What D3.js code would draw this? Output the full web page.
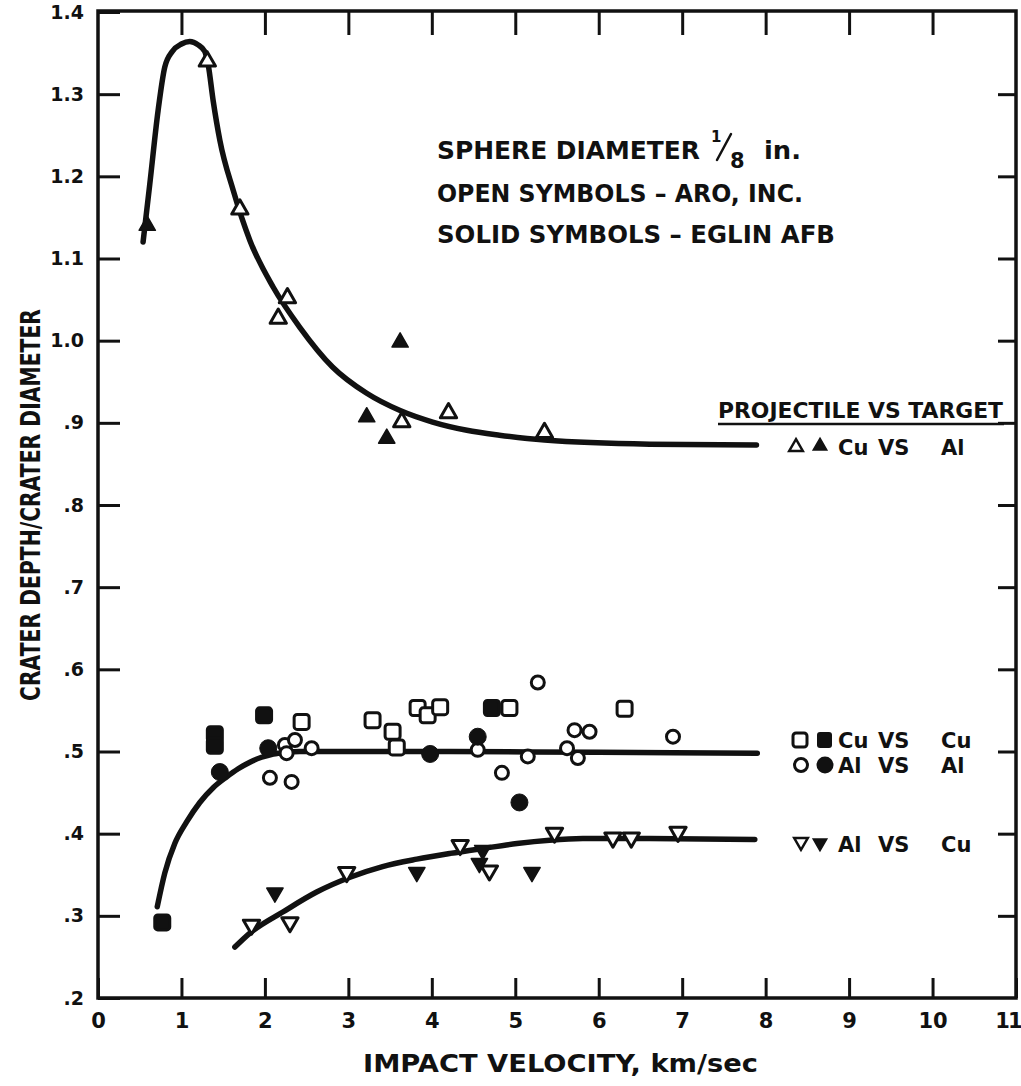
<!DOCTYPE html>
<html>
<head>
<meta charset="utf-8">
<script src="https://cdn.jsdelivr.net/npm/d3@7.9.0/dist/d3.min.js"></script>
<style>
  body { margin: 0; background: #fff; }
  svg { display: block; }
  text { font-family: "DejaVu Sans", sans-serif; font-weight: bold; fill: #111; }
</style>
</head>
<body>
<svg id="chart"></svg>
<script>
// axis ticks
const xTickValues = [0, 1, 2, 3, 4, 5, 6, 7, 8, 9, 10, 11];
const xTickLabels = ['0', '1', '2', '3', '4', '5', '6', '7', '8', '9', '10', '11'];
const yTickValues = [0.2, 0.3, 0.4, 0.5, 0.6, 0.7, 0.8, 0.9, 1.0, 1.1, 1.2, 1.3, 1.4];
const yTickLabels = ['.2', '.3', '.4', '.5', '.6', '.7', '.8', '.9', '1.0', '1.1', '1.2', '1.3', '1.4'];

// Cu vs Al (triangles up)
const cuAlOpen = [[1.31, 1.34], [1.70, 1.16], [2.16, 1.027], [2.27, 1.052], [3.64, 0.901], [4.20, 0.912], [5.35, 0.888]];
const cuAlSolid = [[0.59, 1.14], [3.22, 0.907], [3.46, 0.881], [3.62, 0.998]];
// Cu vs Cu (squares)
const cuCuOpen = [[2.44, 0.536], [3.29, 0.538], [3.53, 0.524], [3.58, 0.505], [3.83, 0.553], [3.95, 0.544], [4.10, 0.554], [4.93, 0.553], [6.31, 0.552]];
const cuCuSolid = [[0.77, 0.292], [1.40, 0.521], [1.40, 0.507], [1.99, 0.544], [4.72, 0.553]];
// Al vs Al (circles)
const alAlOpen = [[2.06, 0.468], [2.24, 0.508], [2.26, 0.498], [2.32, 0.463], [2.36, 0.514], [2.56, 0.504], [4.55, 0.502],
  [4.84, 0.474], [5.15, 0.494], [5.27, 0.584], [5.62, 0.504], [5.71, 0.526], [5.75, 0.492], [5.89, 0.524], [6.89, 0.518]];
const alAlSolid = [[1.46, 0.475], [2.04, 0.504], [3.98, 0.497], [4.55, 0.518], [5.05, 0.438]];
// Al vs Cu (triangles down)
const alCuOpen = [[1.84, 0.289], [2.30, 0.292], [2.98, 0.353], [4.34, 0.386], [4.69, 0.355], [5.47, 0.401], [6.17, 0.395], [6.39, 0.395], [6.95, 0.402]];
const alCuSolid = [[2.12, 0.328], [3.82, 0.353], [4.57, 0.364], [4.61, 0.380], [5.20, 0.353]];

// faired curves
const cuAlCurve = [[0.54, 1.12], [0.62, 1.19], [0.72, 1.28], [0.80, 1.333], [0.89, 1.352], [1.00, 1.361], [1.10, 1.364],
  [1.20, 1.360], [1.28, 1.352], [1.32, 1.336], [1.38, 1.292], [1.46, 1.244], [1.62, 1.183], [1.82, 1.122], [2.10, 1.065], [2.42, 1.016],
  [2.81, 0.968], [3.22, 0.936], [3.62, 0.915], [4.01, 0.901], [4.42, 0.891], [4.81, 0.885], [5.35, 0.879], [6.61, 0.874], [7.89, 0.873]];
const cuCuCurve = [[0.71, 0.311], [0.80, 0.352], [0.92, 0.388], [1.06, 0.414], [1.22, 0.438], [1.38, 0.456], [1.54, 0.469],
  [1.68, 0.479], [1.82, 0.487], [1.96, 0.493], [2.10, 0.497], [2.25, 0.499], [2.42, 0.500], [4.0, 0.500], [6.0, 0.499], [7.9, 0.498]];
const alCuCurve = [[1.64, 0.262], [1.82, 0.279], [2.22, 0.305], [2.62, 0.329], [3.02, 0.347], [3.41, 0.360], [3.82, 0.369],
  [4.22, 0.376], [4.61, 0.382], [5.02, 0.388], [5.41, 0.392], [5.81, 0.394], [6.6, 0.394], [7.87, 0.393]];

const width = 1021;
const height = 1086;
const svg = d3.select('#chart').attr('width', width).attr('height', height);
svg.append('rect').attr('width', width).attr('height', height).attr('fill', '#fff');

const xScale = d3.scaleLinear().domain([0, 11]).range([98, 1016]);
const yScale = d3.scaleLinear().domain([0.2, 1.4]).range([998, 12]);

// frame
svg.append('rect')
  .attr('x', 98).attr('y', 11)
  .attr('width', 918).attr('height', 987)
  .attr('fill', 'none').attr('stroke', '#111').attr('stroke-width', 3.5);

function styleAxis(g, size) {
  g.select('.domain').remove();
  g.selectAll('.tick line').attr('stroke', '#111').attr('stroke-width', 3);
  g.selectAll('.tick text').attr('fill', '#111').style('font-size', size + 'px')
    .style('font-family', '"DejaVu Sans", sans-serif').style('font-weight', 'bold');
}

svg.append('g')
  .attr('transform', 'translate(0, 998)')
  .call(d3.axisBottom(xScale).tickValues(xTickValues).tickSize(-20).tickPadding(15)
    .tickFormat((d, i) => xTickLabels[i]))
  .call((g) => styleAxis(g, 21))
  .call((g) => g.selectAll('.tick text').filter((d) => d === 11)
    .attr('text-anchor', 'end').attr('dx', 4).attr('letter-spacing', -2));

svg.append('g')
  .attr('transform', 'translate(0, 11)')
  .call(d3.axisTop(xScale).tickValues(xTickValues.slice(1, -1)).tickSize(-24).tickFormat(''))
  .call((g) => styleAxis(g, 10));

svg.append('g')
  .attr('transform', 'translate(98, 0)')
  .call(d3.axisLeft(yScale).tickValues(yTickValues).tickSize(-22).tickPadding(14)
    .tickFormat((d, i) => yTickLabels[i]))
  .call((g) => styleAxis(g, 19));

svg.append('g')
  .attr('transform', 'translate(1016, 0)')
  .call(d3.axisRight(yScale).tickValues(yTickValues.slice(1, -1)).tickSize(-18).tickFormat(''))
  .call((g) => styleAxis(g, 10));

// axis titles
svg.append('text')
  .attr('x', 363).attr('y', 1072)
  .attr('textLength', 395).attr('lengthAdjust', 'spacingAndGlyphs')
  .style('font-size', '25px')
  .text('IMPACT VELOCITY, km/sec');

svg.append('text')
  .attr('transform', 'translate(40, 505) rotate(-90)')
  .attr('text-anchor', 'middle')
  .attr('textLength', 392).attr('lengthAdjust', 'spacingAndGlyphs')
  .style('font-size', '26px')
  .text('CRATER DEPTH/CRATER DIAMETER');

// curves
const line = d3.line()
  .x((d) => xScale(d[0]))
  .y((d) => yScale(d[1]))
  .curve(d3.curveMonotoneX);

[cuAlCurve, cuCuCurve, alCuCurve].forEach((c) => {
  svg.append('path')
    .datum(c)
    .attr('d', line)
    .attr('fill', 'none')
    .attr('stroke', '#111')
    .attr('stroke-width', 5.5)
    .attr('stroke-linecap', 'round')
    .attr('stroke-linejoin', 'round');
});

// markers
const triUp = d3.symbol(d3.symbolTriangle, 115);
const markers = svg.append('g');

function drawTriangles(data, filled, down) {
  markers.append('g')
    .selectAll('path')
    .data(data)
    .join('path')
    .attr('d', triUp)
    .attr('transform', (d) => `translate(${xScale(d[0])}, ${yScale(d[1])})` + (down ? ' rotate(180)' : ''))
    .attr('fill', filled ? '#111' : '#fff')
    .attr('stroke', '#111')
    .attr('stroke-width', filled ? 1.5 : 3)
    .attr('stroke-linejoin', 'round');
}

function drawSquares(data, filled) {
  markers.append('g')
    .selectAll('rect')
    .data(data)
    .join('rect')
    .attr('x', (d) => xScale(d[0]) - 7.5)
    .attr('y', (d) => yScale(d[1]) - 7.5)
    .attr('width', 15).attr('height', 15)
    .attr('rx', 3)
    .attr('fill', filled ? '#111' : '#fff')
    .attr('stroke', '#111')
    .attr('stroke-width', 3);
}

function drawCircles(data, filled) {
  markers.append('g')
    .selectAll('circle')
    .data(data)
    .join('circle')
    .attr('cx', (d) => xScale(d[0]))
    .attr('cy', (d) => yScale(d[1]))
    .attr('r', filled ? 8.5 : 6.5)
    .attr('fill', filled ? '#111' : '#fff')
    .attr('stroke', '#111')
    .attr('stroke-width', filled ? 1 : 3);
}

drawTriangles(cuAlOpen, false, false);
drawTriangles(cuAlSolid, true, false);
drawSquares(cuCuOpen, false);
drawSquares(cuCuSolid, true);
drawCircles(alAlOpen, false);
drawCircles(alAlSolid, true);
drawTriangles(alCuOpen, false, true);
drawTriangles(alCuSolid, true, true);

// notes
const notes = svg.append('g').style('font-size', '25px');
notes.append('text').attr('x', 437).attr('y', 159)
  .attr('textLength', 263).attr('lengthAdjust', 'spacingAndGlyphs').text('SPHERE DIAMETER');
notes.append('text').attr('x', 711).attr('y', 142).style('font-size', '15px').text('1');
notes.append('line').attr('x1', 717).attr('y1', 160).attr('x2', 731).attr('y2', 134)
  .attr('stroke', '#111').attr('stroke-width', 2.5).attr('stroke-linecap', 'round');
notes.append('text').attr('x', 730).attr('y', 168).style('font-size', '21px').text('8');
notes.append('text').attr('x', 764).attr('y', 159)
  .attr('textLength', 37).attr('lengthAdjust', 'spacingAndGlyphs').text('in.');
notes.append('text').attr('x', 437).attr('y', 202)
  .attr('textLength', 366).attr('lengthAdjust', 'spacingAndGlyphs').text('OPEN SYMBOLS – ARO, INC.');
notes.append('text').attr('x', 437).attr('y', 243)
  .attr('textLength', 398).attr('lengthAdjust', 'spacingAndGlyphs').text('SOLID SYMBOLS – EGLIN AFB');

// legend
const legend = svg.append('g').style('font-size', '21px');
legend.append('text').attr('x', 718).attr('y', 418)
  .attr('textLength', 285).attr('lengthAdjust', 'spacingAndGlyphs').text('PROJECTILE VS TARGET');
legend.append('line').attr('x1', 718).attr('x2', 1004).attr('y1', 424).attr('y2', 424)
  .attr('stroke', '#111').attr('stroke-width', 2.5);

function legendText(y, proj, targ) {
  legend.append('text').attr('x', 838).attr('y', y).text(proj);
  legend.append('text').attr('x', 878).attr('y', y).text('VS');
  legend.append('text').attr('x', 941).attr('y', y).text(targ);
}

const legTri = d3.symbol(d3.symbolTriangle, 80);
legend.append('path').attr('d', legTri).attr('transform', 'translate(796, 447)')
  .attr('fill', '#fff').attr('stroke', '#111').attr('stroke-width', 2.5);
legend.append('path').attr('d', legTri).attr('transform', 'translate(820, 446)')
  .attr('fill', '#111').attr('stroke', '#111').attr('stroke-width', 1.5);
legendText(455, 'Cu', 'Al');

legend.append('rect').attr('x', 793).attr('y', 733).attr('width', 14).attr('height', 14).attr('rx', 3)
  .attr('fill', '#fff').attr('stroke', '#111').attr('stroke-width', 3);
legend.append('rect').attr('x', 817).attr('y', 732).attr('width', 15).attr('height', 16).attr('rx', 3)
  .attr('fill', '#111');
legendText(748, 'Cu', 'Cu');

legend.append('circle').attr('cx', 801).attr('cy', 765).attr('r', 6.5)
  .attr('fill', '#fff').attr('stroke', '#111').attr('stroke-width', 3);
legend.append('circle').attr('cx', 825).attr('cy', 765).attr('r', 8.5).attr('fill', '#111');
legendText(773, 'Al', 'Al');

legend.append('path').attr('d', legTri).attr('transform', 'translate(801, 842) rotate(180)')
  .attr('fill', '#fff').attr('stroke', '#111').attr('stroke-width', 2.5);
legend.append('path').attr('d', legTri).attr('transform', 'translate(820, 843) rotate(180)')
  .attr('fill', '#111').attr('stroke', '#111').attr('stroke-width', 1.5);
legendText(852, 'Al', 'Cu');
</script>
</body>
</html>
